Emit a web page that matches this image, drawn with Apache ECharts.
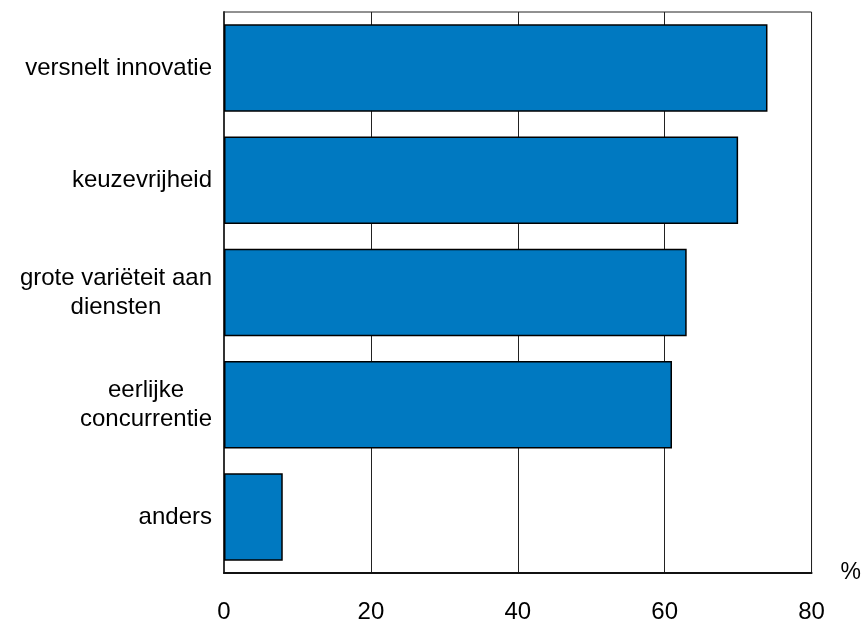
<!DOCTYPE html>
<html>
<head>
<meta charset="utf-8">
<script src="https://cdn.jsdelivr.net/npm/echarts@6/dist/echarts.min.js"></script>
<style>
html,body{margin:0;padding:0;background:#fff;}
#chart{width:864px;height:624px;}
</style>
</head>
<body>
<div id="chart"></div>
<script>
var categories = ['versnelt innovatie', 'keuzevrijheid', 'grote variëteit aan\ndiensten', 'eerlijke\nconcurrentie', 'anders'];
var values = [74, 70, 63, 61, 8];
var xTicks = [0, 20, 40, 60, 80];
var unitLabel = '%';

var chart = echarts.init(document.getElementById('chart'), null, {renderer: 'canvas'});
var font = '"Liberation Sans", Arial, sans-serif';
chart.setOption({
  animation: false,
  backgroundColor: '#ffffff',
  grid: {
    left: 224, right: 51, top: 12, bottom: 51,
    show: true, borderColor: '#222', borderWidth: 1, backgroundColor: 'transparent'
  },
  xAxis: {
    type: 'value',
    min: xTicks[0], max: xTicks[xTicks.length - 1], interval: 20,
    name: unitLabel,
    nameLocation: 'end',
    nameGap: 29,
    nameTextStyle: {fontFamily: font, fontSize: 23, color: '#000', verticalAlign: 'middle', padding: [0, 0, 10, 0]},
    axisLine: {show: true, onZero: false, lineStyle: {color: '#111', width: 2}},
    axisTick: {show: false},
    axisLabel: {fontFamily: font, fontSize: 24, color: '#000', margin: 27},
    splitLine: {show: true, lineStyle: {color: '#222', width: 1}}
  },
  yAxis: {
    type: 'category',
    inverse: true,
    data: categories,
    axisLine: {show: true, lineStyle: {color: '#333', width: 2}},
    axisTick: {show: false},
    axisLabel: {
      margin: 12,
      formatter: function (v) {
        return v.split('\n').map(function (s) { return '{c|' + s + '}'; }).join('\n');
      },
      rich: {
        c: {fontFamily: font, fontSize: 24, color: '#000', align: 'center', lineHeight: 29}
      }
    },
    splitLine: {show: false}
  },
  series: [{
    type: 'bar',
    data: values,
    barCategoryGap: '22%',
    itemStyle: {color: '#0079C1', borderColor: '#000', borderWidth: 1.5},
    silent: true
  }]
});
</script>
</body>
</html>
